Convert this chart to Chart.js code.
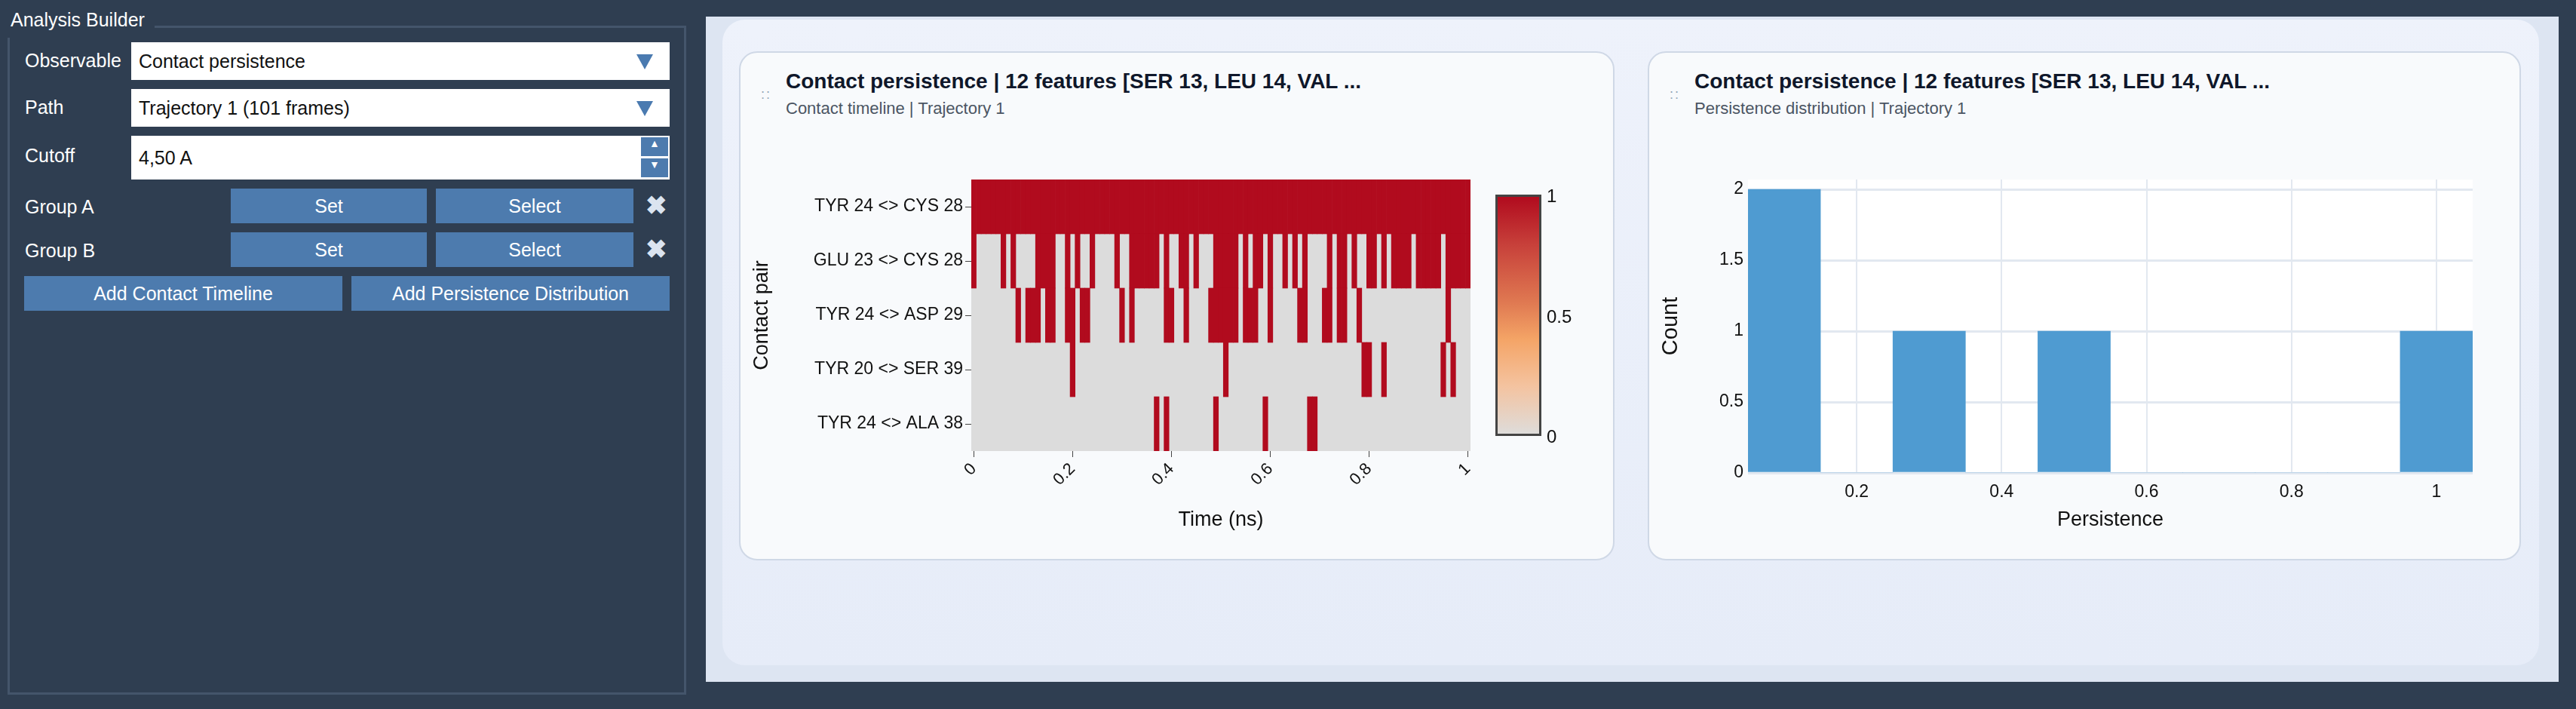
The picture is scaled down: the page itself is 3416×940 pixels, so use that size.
<!DOCTYPE html>
<html><head><meta charset="utf-8">
<script src="https://cdn.jsdelivr.net/npm/chart.js@4"></script>
<style>
body{margin:0;width:3416px;height:940px;background:#2f3e51;font-family:"Liberation Sans",Arial,sans-serif;position:relative;overflow:hidden}
.abs{position:absolute}
.lbl{color:#fff;font-size:25px}
.inp{background:#fff;color:#111;font-size:25px;box-sizing:border-box;padding-left:10px;display:flex;align-items:center}
.btn{background:#4d7bae;color:#fff;font-size:25px;display:flex;align-items:center;justify-content:center}
.tri{position:absolute;right:22px;top:16px;width:0;height:0;border-left:11px solid transparent;border-right:11px solid transparent;border-top:20px solid #4a7ab0}
.card{background:#f8fafc;border:2px solid #cfd8e6;border-radius:24px;box-sizing:border-box}
.ttl{font-weight:bold;font-size:28px;color:#0f172a}
.sub{font-size:22px;color:#4b5563}
.dots{color:#94a3b8;font-size:18px;line-height:10px;letter-spacing:2px}
</style></head><body>
<div class="abs lbl" style="left:14px;top:12px;font-size:25px">Analysis Builder</div>
<div class="abs" style="left:205px;top:34px;width:705px;height:3px;background:#44556b"></div>
<div class="abs" style="left:10px;top:50px;width:3px;height:870px;background:#44556b"></div>
<div class="abs" style="left:10px;top:918px;width:900px;height:3px;background:#44556b"></div>
<div class="abs" style="left:907px;top:34px;width:3px;height:887px;background:#44556b"></div>
<div class="abs lbl" style="left:33px;top:66px">Observable</div>
<div class="abs inp" style="left:174px;top:56px;width:714px;height:50px">Contact persistence<div class="tri"></div></div>
<div class="abs lbl" style="left:33px;top:128px">Path</div>
<div class="abs inp" style="left:174px;top:118px;width:714px;height:50px">Trajectory 1 (101 frames)<div class="tri"></div></div>
<div class="abs lbl" style="left:33px;top:192px">Cutoff</div>
<div class="abs inp" style="left:174px;top:180px;width:714px;height:58px">4,50 A
 <div class="abs" style="right:2px;top:2px;width:36px;height:25px;background:#4d7bae;color:#fff;font-size:14px;text-align:center">▲</div>
 <div class="abs" style="right:2px;top:30px;width:36px;height:25px;background:#4d7bae;color:#fff;font-size:14px;text-align:center">▼</div></div>
<div class="abs lbl" style="left:33px;top:260px">Group A</div>
<div class="abs btn" style="left:306px;top:250px;width:260px;height:46px">Set</div>
<div class="abs btn" style="left:578px;top:250px;width:262px;height:46px">Select</div>
<div class="abs" style="left:856px;top:252px;color:#dbe4f0;font-size:34px;font-weight:bold">✖</div>
<div class="abs lbl" style="left:33px;top:318px">Group B</div>
<div class="abs btn" style="left:306px;top:308px;width:260px;height:46px">Set</div>
<div class="abs btn" style="left:578px;top:308px;width:262px;height:46px">Select</div>
<div class="abs" style="left:856px;top:310px;color:#dbe4f0;font-size:34px;font-weight:bold">✖</div>
<div class="abs btn" style="left:32px;top:366px;width:422px;height:46px">Add Contact Timeline</div>
<div class="abs btn" style="left:466px;top:366px;width:422px;height:46px">Add Persistence Distribution</div>
<div class="abs" style="left:936px;top:22px;width:2457px;height:882px;background:#dde5f2"></div>
<div class="abs" style="left:958px;top:26px;width:2409px;height:856px;background:linear-gradient(#eef2fb,#e6ecf8);border-radius:30px"></div>
<div class="abs card" style="left:980px;top:68px;width:1161px;height:675px"></div>
<div class="abs card" style="left:2185px;top:68px;width:1158px;height:675px"></div>
<div class="abs dots" style="left:1009px;top:120px">::</div>
<div class="abs ttl" style="left:1042px;top:92px">Contact persistence | 12 features [SER 13, LEU 14, VAL ...</div>
<div class="abs sub" style="left:1042px;top:131px">Contact timeline | Trajectory 1</div>
<div class="abs dots" style="left:2214px;top:120px">::</div>
<div class="abs ttl" style="left:2247px;top:92px">Contact persistence | 12 features [SER 13, LEU 14, VAL ...</div>
<div class="abs sub" style="left:2247px;top:131px">Persistence distribution | Trajectory 1</div>
<div class="abs" style="left:990px;top:200px;width:1151px;height:540px"><canvas id="hm"></canvas></div>
<div class="abs" style="left:2195px;top:200px;width:1148px;height:540px"><canvas id="hist"></canvas></div>
<div class="abs" style="left:1983px;top:258px;width:55px;height:314px;border:3px solid #444;background:linear-gradient(#b10b1e,#c7403a 20%,#e07a52 45%,#f4a466 60%,#f4c3a0 80%,#dedcda)"></div>
<div class="abs" style="left:2051px;top:246px;font-size:24px;color:#111">1</div>
<div class="abs" style="left:2051px;top:406px;font-size:24px;color:#111">0.5</div>
<div class="abs" style="left:2051px;top:565px;font-size:24px;color:#111">0</div>
<script>
const pairs=["TYR 24 <> CYS 28","GLU 23 <> CYS 28","TYR 24 <> ASP 29","TYR 20 <> SER 39","TYR 24 <> ALA 38"];
const nFrames=101;
const contactFramesTyr24Cys28="all";
const contactFramesGlu23Cys28=[0,6,8,13,14,15,16,19,21,24,29,32,33,34,35,36,37,39,42,43,45,49,50,51,52,53,55,57,58,60,63,65,67,72,74,75,77,80,81,83,85,86,87,88,90,91,92,93,94,96,97,98,99,100];
const contactFramesTyr24Asp29=[9,11,12,13,15,16,19,20,22,23,30,32,39,40,43,48,49,50,51,52,53,55,56,57,60,66,67,71,72,74,75,78,96];
const contactFramesTyr20Ser39=[20,51,79,80,83,95,97];
const contactFramesTyr24Ala38=[37,39,49,59,68,69];
const timeTicks=[0,0.2,0.4,0.6,0.8,1];
const persistenceBins=["0.1","0.2","0.3","0.4","0.5","0.6","0.7","0.8","0.9","1"];
const persistenceCounts=[2,0,1,0,1,0,0,0,0,1];
const countTicks=[0,0.5,1,1.5,2];

const rows=[contactFramesTyr24Cys28,contactFramesGlu23Cys28,contactFramesTyr24Asp29,contactFramesTyr20Ser39,contactFramesTyr24Ala38];
const dt=1/(nFrames-1);
const red=[],gray=[];
rows.forEach((fr,i)=>{
  gray.push({y:pairs[i],x:[-dt/2,1+dt/2]});
  const list=fr==="all"?Array.from({length:nFrames},(_,k)=>k):fr;
  list.forEach(f=>red.push({y:pairs[i],x:[f*dt-dt/2,f*dt+dt/2]}));
});
const F="'Liberation Sans', Arial, sans-serif";
new Chart(document.getElementById('hm'),{type:'bar',
 data:{labels:pairs,datasets:[
  {data:red,backgroundColor:'#b10b1e',barPercentage:1,categoryPercentage:1,borderSkipped:false,order:1},
  {data:gray,backgroundColor:'#dcdcdc',barPercentage:1,categoryPercentage:1,borderSkipped:false,order:2}]},
 options:{indexAxis:'y',responsive:true,maintainAspectRatio:false,animation:false,
  layout:{padding:{top:38,right:191,bottom:30}},
  plugins:{legend:{display:false},tooltip:{enabled:false}},
  scales:{
   y:{stacked:true,grid:{offset:false,color:'transparent',tickColor:'#444',tickLength:8,drawOnChartArea:false},border:{display:false},
     ticks:{color:'#111',font:{family:F,size:23}},
     title:{display:true,text:'Contact pair',color:'#111',font:{family:F,size:27},padding:{bottom:0}},
     afterFit:s=>{s.width=298;}},
   x:{type:'linear',min:-dt/2,max:1+dt/2,grid:{color:'transparent',tickColor:'#444',tickLength:8,drawOnChartArea:false},border:{display:false},
     afterBuildTicks:s=>{s.ticks=timeTicks.map(v=>({value:v}));},
     ticks:{color:'#111',minRotation:45,maxRotation:45,font:{family:F,size:22},callback:v=>String(v)},
     title:{display:true,text:'Time (ns)',color:'#111',font:{family:F,size:27},padding:{top:4}},
     afterFit:s=>{s.height=112;}}
  }}});

const bgPlugin={id:'bg',beforeDraw(c){const a=c.chartArea,x=c.ctx;x.save();x.fillStyle='#fff';x.fillRect(a.left,a.top,a.width,a.height);x.restore();}};
new Chart(document.getElementById('hist'),{type:'bar',plugins:[bgPlugin],
 data:{labels:persistenceBins,datasets:[{data:persistenceCounts,backgroundColor:'#4f9bd1',barPercentage:1,categoryPercentage:1}]},
 options:{responsive:true,maintainAspectRatio:false,animation:false,
  layout:{padding:{top:38,right:64,bottom:30}},
  plugins:{legend:{display:false},tooltip:{enabled:false}},
  scales:{
   x:{grid:{offset:false,color:c=>(c.index%2===1?'#e2e8f0':'transparent'),lineWidth:2,drawTicks:false},border:{display:false},
     ticks:{autoSkip:false,maxRotation:0,color:'#111',font:{family:F,size:23},padding:12,callback:function(v,i){return i%2===1?this.getLabelForValue(v):'';}},
     title:{display:true,text:'Persistence',color:'#111',font:{family:F,size:27}},
     afterFit:s=>{s.height=83;}},
   y:{min:0,max:2.07,grid:{color:'#e2e8f0',lineWidth:3,drawTicks:false},border:{display:false},
     afterBuildTicks:s=>{s.ticks=countTicks.map(v=>({value:v}));},
     ticks:{color:'#111',font:{family:F,size:23},padding:6,callback:v=>String(v)},
     title:{display:true,text:'Count',color:'#111',font:{family:F,size:29}},
     afterFit:s=>{s.width=123;}}
  }}});
</script></body></html>
